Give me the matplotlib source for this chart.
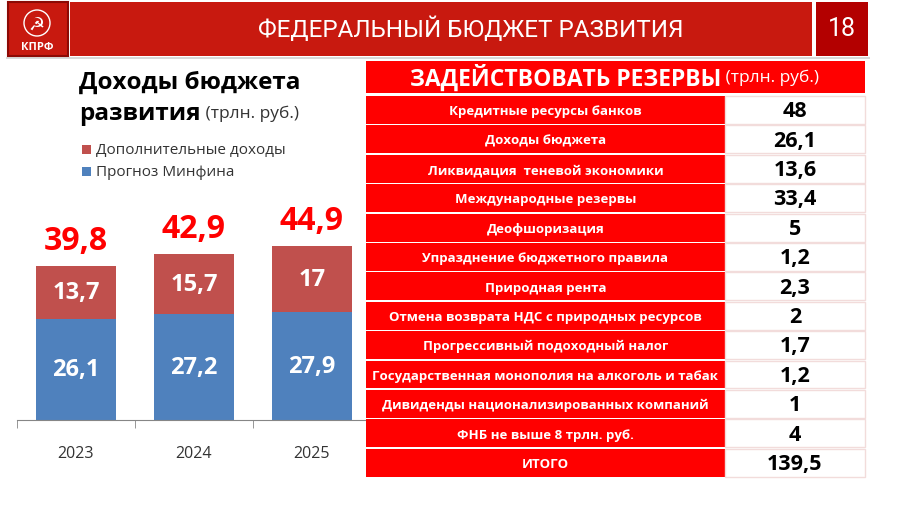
import matplotlib.pyplot as plt
from matplotlib.patches import Rectangle, Circle

plt.rcParams['font.family'] = ['Open Sans', 'DejaVu Sans']

# данные
years = ['2023', '2024', '2025']
minfin = [26.1, 27.2, 27.9]
extra = [13.7, 15.7, 17]
totals = [39.8, 42.9, 44.9]

reserve_items = ['Кредитные ресурсы банков', 'Доходы бюджета',
                 'Ликвидация  теневой экономики', 'Международные резервы',
                 'Деофшоризация', 'Упразднение бюджетного правила',
                 'Природная рента', 'Отмена возврата НДС с природных ресурсов',
                 'Прогрессивный подоходный налог',
                 'Государственная монополия на алкоголь и табак',
                 'Дивиденды национализированных компаний',
                 'ФНБ не выше 8 трлн. руб.', 'ИТОГО']
reserve_values = [48, 26.1, 13.6, 33.4, 5, 1.2, 2.3, 2, 1.7, 1.2, 1, 4, 139.5]


def fmt(v):
    return f"{v:g}".replace('.', ',')


blue = '#4F81BD'
red = '#C0504D'

fig = plt.figure(figsize=(9, 5.1), dpi=100)

# Balken
ax = fig.add_axes([17 / 900, 1 - 420.7 / 510, 354 / 900, 193.5 / 510])
ax.set_zorder(1)
x = range(len(years))
ax.bar(x, minfin, width=0.67, color=blue)
ax.bar(x, extra, width=0.67, bottom=minfin, color=red)
for i in x:
    ax.text(i, minfin[i] / 2, fmt(minfin[i]), ha='center', va='center',
            color='white', fontsize=17, fontweight='bold')
    ax.text(i, minfin[i] + extra[i] / 2, fmt(extra[i]), ha='center', va='center',
            color='white', fontsize=17, fontweight='bold')
    ax.annotate(fmt(totals[i]), (i, totals[i]), xytext=(0, 12),
                textcoords='offset points', ha='center', va='baseline',
                color='#FF0000', fontsize=23, fontweight='bold',
                annotation_clip=False)
ax.set_xlim(-0.5, 2.5)
ax.set_ylim(0, 50)
ax.set_xticks(list(x))
ax.set_xticklabels(years, fontsize=11.5, color='#333333')
ax.set_xticks([-0.5, 0.5, 1.5, 2.5], minor=True)
ax.tick_params(axis='x', which='major', length=0, pad=18)
ax.tick_params(axis='x', which='minor', length=6, color='#868686', direction='out')
ax.set_yticks([])
for s in ['top', 'right', 'left']:
    ax.spines[s].set_visible(False)
ax.spines['bottom'].set_color('#868686')
ax.patch.set_visible(False)

# Folie
bg = fig.add_axes([0, 0, 1, 1])
bg.set_zorder(2)
bg.set_xlim(0, 900)
bg.set_ylim(510, 0)
bg.axis('off')
bg.patch.set_visible(False)

# Kopfzeile
bg.add_patch(Rectangle((6, 58), 864, 2, color='#D9D9D9', lw=0))
bg.add_patch(Rectangle((8, 3), 60, 54, facecolor='#C8190F', edgecolor='#8C0A05', lw=1.5))
bg.add_patch(Circle((37, 24), 13, fill=False, edgecolor='white', lw=1))
bg.text(37, 25, '☭', color='white', fontsize=13, ha='center', va='center',
        family=['DejaVu Sans'])
bg.text(37, 48, 'КПРФ', color='white', fontsize=8, fontweight='bold',
        ha='center', va='center')
bg.add_patch(Rectangle((70, 3), 742, 54, color='#C8190F', lw=0))
bg.text(471, 29, 'ФЕДЕРАЛЬНЫЙ БЮДЖЕТ РАЗВИТИЯ', color='white', fontsize=17.5,
        ha='center', va='center', family=['Roboto', 'DejaVu Sans'])
bg.add_patch(Rectangle((816, 3), 52, 54, color='#B30000', lw=0))
bg.text(842, 29, '18', color='white', fontsize=18, ha='center', va='center',
        family=['Roboto', 'DejaVu Sans'])

# Titel links
bg.text(79, 83, 'Доходы бюджета', fontsize=17.5, fontweight='bold', va='center')
t = bg.text(79, 114, 'развития', fontsize=17.5, fontweight='bold', va='center')
bg.annotate(' (трлн. руб.)', xycoords=t, xy=(1, 0.5), va='center',
            fontsize=12.5, color='#333333')

# Legende
bg.add_patch(Rectangle((82, 146), 9, 9, color=red, lw=0))
bg.text(96, 151, 'Дополнительные доходы', fontsize=11, va='center', color='#333333')
bg.add_patch(Rectangle((82, 168), 9, 9, color=blue, lw=0))
bg.text(96, 173, 'Прогноз Минфина', fontsize=11, va='center', color='#333333')

# Tabelle
tab_l, tab_m, tab_r = 366, 725, 865
bg.add_patch(Rectangle((tab_l, 62), tab_r - tab_l, 32, color='#FF0000', lw=0))
h = bg.text(tab_l + 44, 78, 'ЗАДЕЙСТВОВАТЬ РЕЗЕРВЫ', color='white', fontsize=16.5,
            fontweight='bold', va='center')
bg.annotate(' (трлн. руб.)', xycoords=h, xy=(1, 0.5), va='center',
            fontsize=12.5, color='white')

row_h = 29.4
top = 97
for i, (item, val) in enumerate(zip(reserve_items, reserve_values)):
    y0 = top + i * row_h
    bg.add_patch(Rectangle((tab_l, y0), tab_m - tab_l, row_h - 1.5,
                           color='#FF0000', lw=0))
    bg.add_patch(Rectangle((tab_m, y0), tab_r - tab_m, row_h - 1.5,
                           facecolor='white', edgecolor='#F2DCDB', lw=1))
    bg.text((tab_l + tab_m) / 2, y0 + row_h / 2, item, color='white', fontsize=9.5,
            fontweight='bold', ha='center', va='center')
    bg.text((tab_m + tab_r) / 2, y0 + row_h / 2, fmt(val), color='black',
            fontsize=15.5, fontweight='bold', ha='center', va='center')

plt.savefig('out.png', dpi=100)
